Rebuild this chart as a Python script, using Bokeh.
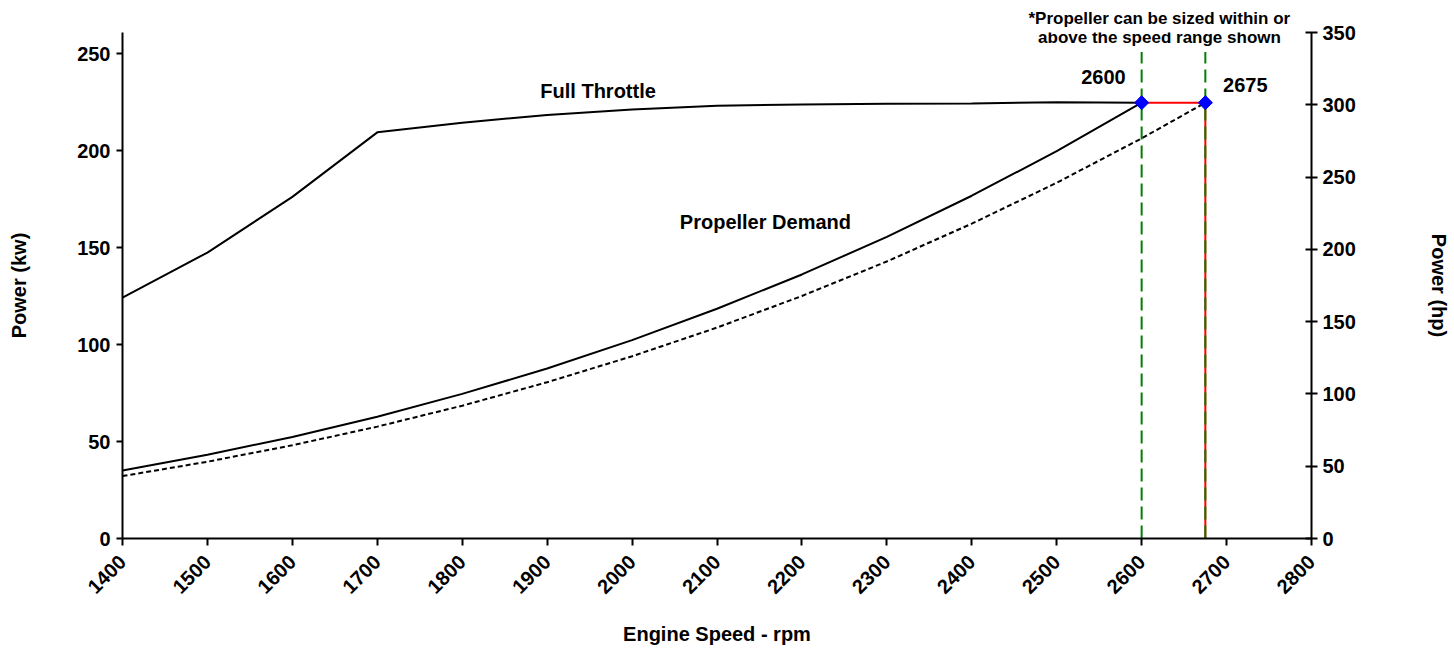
import math
from bokeh.plotting import figure
from bokeh.models import Range1d, LinearAxis, SingleIntervalTicker, Label, Title
from bokeh.embed import file_html
from bokeh.resources import INLINE

# ---- data ----
rpm = [1400, 1500, 1600, 1700, 1800, 1900, 2000, 2100, 2200, 2300, 2400, 2500, 2600]
full_throttle_kw = [124.3, 147.5, 176.2, 209.5, 214.5, 218.5, 221.3, 223.2, 223.9, 224.2, 224.4, 225.0, 224.8]
prop_demand_kw = [35.1, 43.2, 52.4, 62.8, 74.6, 87.7, 102.3, 118.5, 136.2, 155.6, 176.8, 199.8, 224.8]

prop_rpm_alt = [1400, 1500, 1600, 1700, 1800, 1900, 2000, 2100, 2200, 2300, 2400, 2500, 2600, 2675]
prop_demand_alt_kw = [32.2, 39.6, 48.1, 57.7, 68.5, 80.6, 94.0, 108.8, 125.1, 142.9, 162.4, 183.5, 206.4, 224.8]

rated_rpm = [2600, 2675]
rated_kw = [224.8, 224.8]
limit_top_kw = 251.0

x_ticks = list(range(1400, 2801, 100))
kw_max = 261.0
hp_max = 350.0

FONT = "Liberation Sans"

p = figure(width=1454, height=650, x_range=Range1d(1400, 2800), y_range=Range1d(0, kw_max),
           output_backend="svg", toolbar_location=None,
           min_border_left=122, min_border_right=143, min_border_top=32, min_border_bottom=112)
p.outline_line_color = None
p.xgrid.grid_line_color = None
p.ygrid.grid_line_color = None
p.background_fill_color = "white"
p.border_fill_color = "white"

p.extra_y_ranges = {"hp": Range1d(0, hp_max)}

def style_axis(ax):
    ax.axis_line_width = 2
    ax.axis_line_color = "black"
    ax.major_tick_line_width = 2
    ax.major_tick_line_color = "black"
    ax.minor_tick_line_color = None
    ax.major_label_text_font = FONT
    ax.major_label_text_font_style = "bold"
    ax.major_label_text_font_size = "20px"
    ax.major_label_text_color = "black"
    ax.axis_label_text_font = FONT
    ax.axis_label_text_font_style = "bold"
    ax.axis_label_text_font_size = "20px"
    ax.axis_label_text_color = "black"

xa = p.xaxis[0]
style_axis(xa)
xa.ticker = x_ticks
xa.major_tick_in = 0
xa.major_tick_out = 7
xa.major_label_orientation = math.pi / 4
xa.major_label_standoff = 13
xa.axis_label = "Engine Speed - rpm"
xa.axis_label_standoff = 20

ya = p.yaxis[0]
style_axis(ya)
ya.ticker = SingleIntervalTicker(interval=50)
ya.major_tick_in = 0
ya.major_tick_out = 6
ya.major_label_standoff = 6
ya.axis_label = "Power (kw)"
ya.axis_label_standoff = 44

ra = LinearAxis(y_range_name="hp")
style_axis(ra)
ra.ticker = SingleIntervalTicker(interval=50)
ra.major_tick_in = 6
ra.major_tick_out = 6
ra.major_label_standoff = 5
ra.axis_label = "Power (hp)"
ra.axis_label_standoff = 69
p.add_layout(ra, "right")

# red rated lines (under green)
p.line([rated_rpm[1], rated_rpm[1]], [0, rated_kw[1]], line_color="#ff0000", line_width=2)
p.line(rated_rpm, rated_kw, line_color="#ff0000", line_width=2)

# green dashed speed limits
for r in rated_rpm:
    p.line([r, r], [0, limit_top_kw], line_color="#008000", line_width=2, line_dash="13 6")

# curves
p.line(rpm, full_throttle_kw, line_color="black", line_width=2)
p.line(rpm, prop_demand_kw, line_color="black", line_width=2)
p.line(prop_rpm_alt, prop_demand_alt_kw, line_color="black", line_width=2, line_dash="5 3")

# rated points
p.scatter(rated_rpm, rated_kw, marker="square", angle=math.pi / 4, size=10,
          fill_color="#0000ff", line_color="#0000ff")

def lab(x, y, text, size="20px"):
    p.add_layout(Label(x=x, y=y, text=text, text_font=FONT, text_font_style="bold",
                       text_font_size=size, text_align="center", text_baseline="middle",
                       text_color="black"))

lab(1960, 231, "Full Throttle")
lab(2157, 163, "Propeller Demand")
lab(2555, 238, "2600")
lab(2722, 234, "2675")
lab(2621, 258.6, "above the speed range shown", "17px")

note = Title(text="*Propeller can be sized within or", align="left", offset=906,
             text_font=FONT, text_font_style="bold", text_font_size="17px",
             text_color="black", standoff=10, vertical_align="bottom")
p.add_layout(note, "above")

open("out.html", "w").write(file_html(p, INLINE))
